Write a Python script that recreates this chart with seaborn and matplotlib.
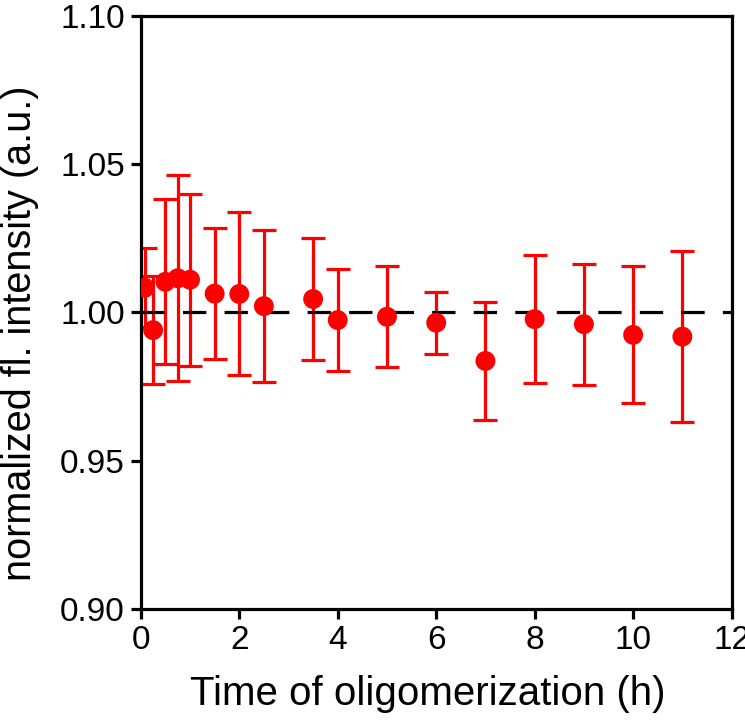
import matplotlib
matplotlib.use("Agg")
import matplotlib.pyplot as plt
import seaborn as sns
import pandas as pd

sns.set_style("ticks")
plt.rcParams['font.family'] = ['Liberation Sans', 'DejaVu Sans']
plt.rcParams['text.color'] = 'black'
plt.rcParams['axes.labelcolor'] = 'black'
plt.rcParams['xtick.color'] = 'black'
plt.rcParams['ytick.color'] = 'black'

# time (h), normalized intensity and its spread
time_h = [0.083, 0.25, 0.5, 0.75, 1.0, 1.5, 2.0, 2.5, 3.5, 4.0, 5.0, 6.0, 7.0, 8.0, 9.0, 10.0, 11.0]
intensity = [1.0083, 0.9940, 1.0103, 1.0115, 1.0110, 1.0063, 1.0062, 1.0021, 1.0045,
             0.9974, 0.9985, 0.9965, 0.9836, 0.9977, 0.9960, 0.9924, 0.9918]
sd = [0.0133, 0.0182, 0.0278, 0.0347, 0.0290, 0.0222, 0.0275, 0.0257, 0.0205,
      0.0173, 0.0170, 0.0104, 0.0200, 0.0215, 0.0204, 0.0231, 0.0288]

df = pd.DataFrame({"time": time_h, "intensity": intensity, "sd": sd})

fig = plt.figure(figsize=(7.45, 7.23), dpi=100)
ax = fig.add_axes([0.189, 0.158, 0.793, 0.820])

ax.errorbar(df["time"], df["intensity"], yerr=df["sd"], fmt="none",
            ecolor="red", elinewidth=2.3, capsize=8.5, capthick=2.3, zorder=2)
ax.axhline(1.0, color="black", lw=2.3, ls=(0, (7.3, 5.7)), zorder=3)
sns.scatterplot(data=df, x="time", y="intensity", ax=ax, color="red", s=205,
                edgecolor="none", zorder=4, legend=False)

ax.set_xlim(0, 12)
ax.set_ylim(0.90, 1.10)
ax.set_xticks(range(0, 13, 2))
ax.set_yticks([0.90, 0.95, 1.00, 1.05, 1.10])
ax.set_yticklabels(["0.90", "0.95", "1.00", "1.05", "1.10"])
ax.set_xlabel("Time of oligomerization (h)", fontsize=29)
ax.set_ylabel("normalized fl. intensity (a.u.)", fontsize=28.5)
ax.xaxis.set_label_coords(0.485, -0.112)
ax.yaxis.set_label_coords(-0.172, 0.465)
ax.tick_params(axis="both", labelsize=24, width=2.3, length=7.5,
               direction="out", pad=4)
for sp in ax.spines.values():
    sp.set_linewidth(2.3)
    sp.set_color("black")

fig.savefig("out.png", dpi=100)
